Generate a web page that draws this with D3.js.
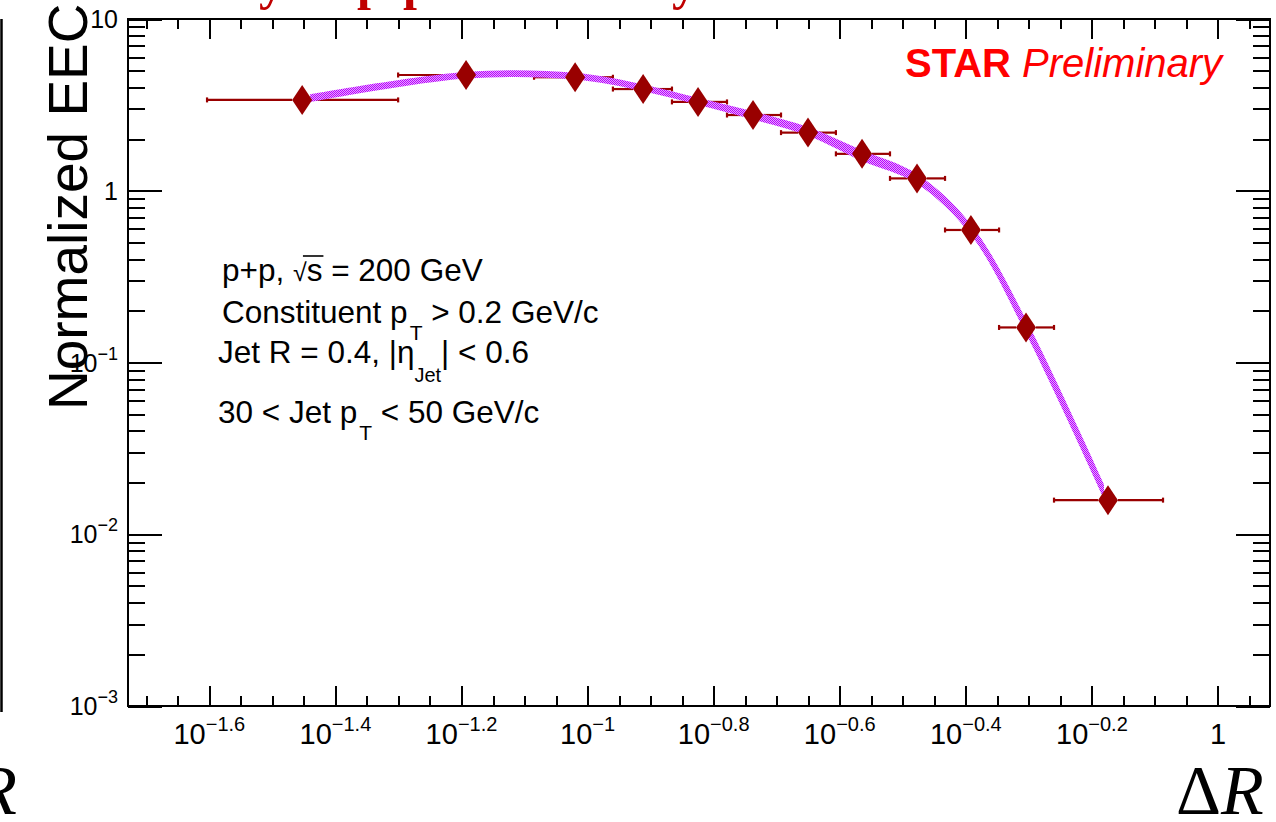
<!DOCTYPE html>
<html>
<head>
<meta charset="utf-8">
<script src="https://cdn.jsdelivr.net/npm/d3@7"></script>
<style>
  html, body { margin: 0; padding: 0; background: #fff; }
  svg { display: block; }
</style>
</head>
<body>
<svg id="chart" width="1276" height="822"></svg>
<script>
// ---------------- data ----------------
const deltaR   = [0.03526, 0.06416, 0.09555, 0.1225, 0.1497, 0.1830, 0.2237, 0.2725, 0.3331, 0.4056, 0.4960, 0.6691];
const binLow   = [0.02491, 0.05006, 0.08224, 0.1097, 0.1361, 0.1664, 0.2027, 0.2477, 0.3018, 0.3690, 0.4495, 0.5494];
const binHigh  = [0.05006, 0.08224, 0.1097, 0.1361, 0.1664, 0.2027, 0.2477, 0.3018, 0.3690, 0.4495, 0.5494, 0.8181];
const eec      = [3.38, 4.72, 4.58, 3.91, 3.29, 2.76, 2.18, 1.64, 1.18, 0.591, 0.160, 0.0158];

// theory / systematic band
const bandR    = [0.0363, 0.06416, 0.09555, 0.1225, 0.1497, 0.1830, 0.2237, 0.2725, 0.3331, 0.4056, 0.4960, 0.6594];
const bandLo   = [3.28, 4.50, 4.44, 3.80, 3.17, 2.60, 2.09, 1.49, 1.10, 0.552, 0.147, 0.0160];
const bandHi   = [3.65, 4.92, 4.86, 4.16, 3.48, 2.90, 2.35, 1.72, 1.25, 0.637, 0.178, 0.0196];

// axes
const xMajorExp  = [-1.6, -1.4, -1.2, -1.0, -0.8, -0.6, -0.4, -0.2, 0];
const xTickBase  = ["10", "10", "10", "10", "10", "10", "10", "10", "1"];
const xTickExp   = ["\u22121.6", "\u22121.4", "\u22121.2", "\u22121", "\u22120.8", "\u22120.6", "\u22120.4", "\u22120.2", ""];
const yTickVals  = [1e-3, 1e-2, 1e-1, 1, 10];
const yTickBase  = ["10", "10", "10", "1", "10"];
const yTickExp   = ["\u22123", "\u22122", "\u22121", "", ""];

const yTitle = "Normalized EEC";
const xTitle = ["\u0394", "R"];
const annot = {
  l1: ["p+p, ", "\u221A", "s", " = 200 GeV"],
  l2: ["Constituent p", "T", " > 0.2 GeV/c"],
  l3: ["Jet R = 0.4, |\u03B7", "Jet", "| < 0.6"],
  l4: ["30 < Jet p", "T", " < 50 GeV/c"]
};
const titleFragments = ["y", "p", "p", "y"];

// ---------------- layout ----------------
const L = 128, R = 1270, T = 19, B = 706;
const svg = d3.select("#chart");
svg.append("rect").attr("width", 1276).attr("height", 822).attr("fill", "#fff");

const x = d3.scaleLog().domain([Math.pow(10, -1.729), Math.pow(10, 0.0825)]).range([L, R]);
const y = d3.scaleLog().domain([1e-3, 10]).range([B, T]);

const defs = svg.append("defs");
const pat = defs.append("pattern").attr("id", "dots").attr("patternUnits", "userSpaceOnUse")
  .attr("width", 2).attr("height", 2);
pat.append("rect").attr("width", 2).attr("height", 2).attr("fill", "#e6a6ff");
pat.append("rect").attr("x", 0).attr("y", 0).attr("width", 1).attr("height", 1).attr("fill", "#b800ff");
pat.append("rect").attr("x", 1).attr("y", 1).attr("width", 1).attr("height", 1).attr("fill", "#b800ff");

// cut-off slide title fragments (only descenders visible)
const titleX = [259, 357, 403, 672];
svg.append("g").selectAll("text").data(titleFragments).join("text")
  .attr("x", (d, i) => titleX[i]).attr("y", -1.5)
  .attr("font-family", "Liberation Serif").attr("font-weight", "bold").attr("font-size", 50)
  .attr("fill", "#c00000").text(d => d);

// remnant of neighbouring panel on the left
svg.append("line").attr("x1", 1.5).attr("x2", 1.5).attr("y1", 19).attr("y2", 712)
  .attr("stroke", "#000").attr("stroke-width", 2.5);
svg.append("text").attr("x", 17).attr("y", 814).attr("text-anchor", "end")
  .attr("font-family", "Liberation Serif").attr("font-style", "italic").attr("font-size", 70)
  .attr("fill", "#000").text("R");

// ---------------- axes (ticks) ----------------
const axStyle = g => {
  g.select(".domain").remove();
  g.selectAll("line").attr("stroke", "#000").attr("stroke-width", 2).attr("shape-rendering", "crispEdges");
};
const xMajor = xMajorExp.map(e => Math.pow(10, e));
const xMinor = d3.range(-1.70, 0.0826, 0.05).map(e => Math.round(e * 100) / 100)
  .filter(e => !xMajorExp.some(m => Math.abs(m - e) < 1e-6)).map(e => Math.pow(10, e));
const yMinor = [];
[1e-3, 1e-2, 1e-1, 1].forEach(d => { for (let k = 2; k <= 9; k++) yMinor.push(d * k); });

svg.append("g").attr("transform", `translate(0,${B})`)
  .call(d3.axisBottom(x).tickValues(xMajor).tickSize(-20).tickFormat("")).call(axStyle);
svg.append("g").attr("transform", `translate(0,${B})`)
  .call(d3.axisBottom(x).tickValues(xMinor).tickSize(-10).tickFormat("")).call(axStyle);
svg.append("g").attr("transform", `translate(0,${T})`)
  .call(d3.axisTop(x).tickValues(xMajor).tickSize(-20).tickFormat("")).call(axStyle);
svg.append("g").attr("transform", `translate(0,${T})`)
  .call(d3.axisTop(x).tickValues(xMinor).tickSize(-10).tickFormat("")).call(axStyle);
svg.append("g").attr("transform", `translate(${L},0)`)
  .call(d3.axisLeft(y).tickValues(yTickVals).tickSize(-34).tickFormat("")).call(axStyle);
svg.append("g").attr("transform", `translate(${L},0)`)
  .call(d3.axisLeft(y).tickValues(yMinor).tickSize(-17).tickFormat("")).call(axStyle);
svg.append("g").attr("transform", `translate(${R},0)`)
  .call(d3.axisRight(y).tickValues(yTickVals).tickSize(-34).tickFormat("")).call(axStyle);
svg.append("g").attr("transform", `translate(${R},0)`)
  .call(d3.axisRight(y).tickValues(yMinor).tickSize(-17).tickFormat("")).call(axStyle);

// frame
svg.append("rect").attr("x", L).attr("y", T).attr("width", R - L).attr("height", B - T)
  .attr("fill", "none").attr("stroke", "#000").attr("stroke-width", 2).attr("shape-rendering", "crispEdges");

// x tick labels
const xl = svg.append("g").attr("font-family", "Liberation Sans").attr("fill", "#000");
xMajor.forEach((v, i) => {
  const t = xl.append("text").attr("x", x(v)).attr("y", 744).attr("text-anchor", "middle").attr("font-size", 29);
  t.append("tspan").text(xTickBase[i]);
  if (xTickExp[i]) t.append("tspan").attr("font-size", 20).attr("dy", -13).text(xTickExp[i]);
});
// y tick labels
yTickVals.forEach((v, i) => {
  const t = xl.append("text").attr("x", 118).attr("y", y(v) + 9).attr("text-anchor", "end").attr("font-size", 25);
  t.append("tspan").text(yTickBase[i]);
  if (yTickExp[i]) t.append("tspan").attr("font-size", 18).attr("dy", -12).text(yTickExp[i]);
});

// axis titles
svg.append("text").attr("transform", "translate(87,410) rotate(-90)")
  .attr("font-family", "Liberation Sans").attr("font-size", 55).attr("fill", "#000").text(yTitle);
const xt = svg.append("text").attr("x", 1176).attr("y", 814)
  .attr("font-family", "Liberation Serif").attr("font-size", 70).attr("fill", "#000");
xt.append("tspan").text(xTitle[0]);
xt.append("tspan").attr("font-style", "italic").text(xTitle[1]);

// ---------------- data marks ----------------
const red = "#990000";
const eb = svg.append("g").attr("stroke", red).attr("stroke-width", 2.2);
deltaR.forEach((r, i) => {
  const cx = x(r), cy = y(eec[i]);
  eb.append("line").attr("x1", x(binLow[i])).attr("x2", cx - 10).attr("y1", cy).attr("y2", cy);
  eb.append("line").attr("x1", cx + 10).attr("x2", x(binHigh[i])).attr("y1", cy).attr("y2", cy);
  eb.append("line").attr("x1", x(binLow[i])).attr("x2", x(binLow[i])).attr("y1", cy - 2.5).attr("y2", cy + 2.5);
  eb.append("line").attr("x1", x(binHigh[i])).attr("x2", x(binHigh[i])).attr("y1", cy - 2.5).attr("y2", cy + 2.5);
});

const bandData = bandR.map((r, i) => ({ r, lo: bandLo[i], hi: bandHi[i] }));
svg.append("path").datum(bandData)
  .attr("d", d3.area().curve(d3.curveCatmullRom).x(d => x(d.r)).y0(d => y(d.lo)).y1(d => y(d.hi)))
  .attr("fill", "url(#dots)");

const diamond = d3.path();
diamond.moveTo(0, -15); diamond.lineTo(10, 0); diamond.lineTo(0, 15); diamond.lineTo(-10, 0); diamond.closePath();
svg.append("g").selectAll("path").data(deltaR).join("path")
  .attr("transform", (r, i) => `translate(${x(r)},${y(eec[i])})`)
  .attr("d", diamond.toString()).attr("fill", red);

// ---------------- annotations ----------------
const FS = 31.5;
const ag = svg.append("g").attr("font-family", "Liberation Sans").attr("font-size", FS).attr("fill", "#000");
const t1 = ag.append("text").attr("x", 222).attr("y", 281);
t1.append("tspan").text(annot.l1[0]);
t1.append("tspan").attr("font-size", 25).text(annot.l1[1]);
t1.append("tspan").text(annot.l1[2]);
t1.append("tspan").text(annot.l1[3]);
// overline for sqrt
{
  const n0 = annot.l1[0].length + annot.l1[1].length;
  const s1 = t1.node().getEndPositionOfChar(n0).x;
  const r0 = t1.node().getStartPositionOfChar(n0 - 1).x;
  ag.append("line").attr("x1", r0 + 10).attr("x2", s1 + 1).attr("y1", 256).attr("y2", 256)
    .attr("stroke", "#000").attr("stroke-width", 1.6);
}
const t2 = ag.append("text").attr("x", 222).attr("y", 323);
t2.append("tspan").text(annot.l2[0]);
t2.append("tspan").attr("font-size", 21).attr("dx", 2).attr("dy", 17).text(annot.l2[1]);
t2.append("tspan").attr("dy", -17).text(annot.l2[2]);
const t3 = ag.append("text").attr("x", 218).attr("y", 363);
t3.append("tspan").text(annot.l3[0]);
t3.append("tspan").attr("font-size", 20).attr("dy", 19).text(annot.l3[1]);
t3.append("tspan").attr("dy", -19).text(annot.l3[2]);
const t4 = ag.append("text").attr("x", 218).attr("y", 423);
t4.append("tspan").text(annot.l4[0]);
t4.append("tspan").attr("font-size", 21).attr("dx", 2).attr("dy", 17).text(annot.l4[1]);
t4.append("tspan").attr("dy", -17).text(annot.l4[2]);

// STAR Preliminary
const st = svg.append("text").attr("x", 905).attr("y", 77)
  .attr("font-family", "Liberation Sans").attr("font-size", 40).attr("fill", "#ff0000");
st.append("tspan").attr("font-weight", "bold").text("STAR");
st.append("tspan").attr("font-style", "italic").text(" Preliminary");
</script>
</body>
</html>
